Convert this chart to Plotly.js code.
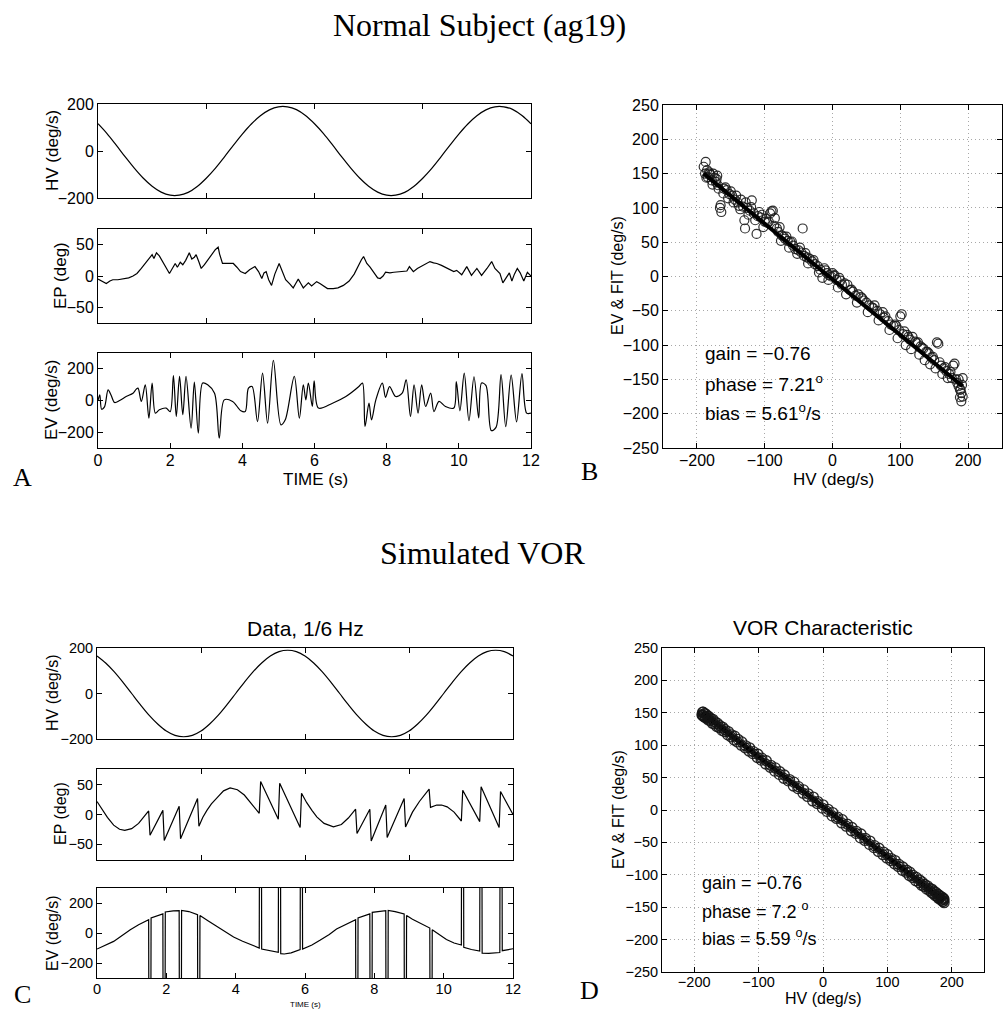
<!DOCTYPE html>
<html><head><meta charset="utf-8">
<script src="https://cdn.plot.ly/plotly-3.0.1.min.js"></script>
<style>html,body{margin:0;padding:0;background:#fff}#chart{width:1008px;height:1012px}</style>
</head><body><div id="chart"></div>
<script>
// ---------------- DATA ----------------
// Panel A (Normal subject) time series
const tHV_A = [0,0.25,0.5,0.75,1,1.25,1.5,1.75,2,2.25,2.5,2.75,3,3.25,3.5,3.75,4,4.25,4.5,4.75,5,5.25,5.5,5.75,6,6.25,6.5,6.75,7,7.25,7.5,7.75,8,8.25,8.5,8.75,9,9.25,9.5,9.75,10,10.25,10.5,10.75,11,11.25,11.5,11.75,12];
const hvA = [116,74,26,-24,-72,-115,-150,-175,-188,-188,-176,-151,-116,-74,-26,24,72,115,150,175,188,188,176,151,116,74,26,-24,-72,-115,-150,-175,-188,-188,-176,-151,-116,-74,-26,24,72,115,150,175,188,188,176,151,116];

const tEP_A = [0,0.12,0.23,0.33,0.41,0.55,0.7,0.85,0.97,1.08,1.2,1.3,1.38,1.45,1.5,1.55,1.62,1.7,1.8,1.9,1.98,2.08,2.14,2.2,2.28,2.35,2.43,2.53,2.6,2.67,2.72,2.8,2.86,2.95,3.05,3.15,3.25,3.33,3.37,3.45,3.6,3.75,3.85,3.95,4.08,4.2,4.35,4.45,4.54,4.6,4.66,4.73,4.81,4.9,5.02,5.1,5.2,5.32,5.41,5.48,5.55,5.62,5.69,5.76,5.83,5.92,6.06,6.15,6.25,6.36,6.52,6.65,6.8,6.96,7.1,7.2,7.3,7.36,7.45,7.54,7.65,7.75,7.82,7.9,7.97,8.09,8.2,8.37,8.5,8.56,8.63,8.74,8.85,9.02,9.1,9.2,9.3,9.39,9.52,9.66,9.78,9.86,9.94,10.08,10.22,10.35,10.5,10.63,10.78,10.91,11.0,11.14,11.22,11.31,11.4,11.47,11.54,11.62,11.7,11.8,11.9,12];
const epA = [-5,-9,-12,-8,-6,-6,-5,-3,0,4,12,20,25,32,34,28,37,32,22,12,4,14,20,14,22,18,25,37,27,30,34,22,12,18,26,34,42,46,35,20,20,20,14,7,4,10,15,7,-4,5,7,-6,-15,3,20,8,-6,-13,-19,-12,-5,-12,-19,-15,-11,-16,-9,-12,-16,-20,-20,-19,-15,-8,3,15,26,31,20,14,4,-3,-4,0,6,5,6,7,7,8,15,7,12,17,20,23,21,20,17,13,10,7,9,2,15,1,12,1,12,23,12,4,-11,-2,5,-8,3,12,5,-8,6,0,-8];

const tEV_A = [0,0.05,0.1,0.18,0.28,0.36,0.46,0.6,0.78,0.97,1.06,1.11,1.2,1.31,1.41,1.5,1.59,1.7,1.89,2.0,2.09,2.17,2.26,2.35,2.44,2.58,2.67,2.78,2.9,3.04,3.23,3.36,3.5,3.73,3.96,4.08,4.17,4.27,4.42,4.56,4.7,4.86,5.07,5.19,5.44,5.58,5.69,5.76,5.83,5.94,5.99,6.11,6.5,6.87,7.23,7.33,7.4,7.51,7.58,7.7,7.88,7.97,8.08,8.25,8.43,8.54,8.66,8.76,8.87,8.97,9.08,9.22,9.31,9.45,9.63,9.86,9.93,10.03,10.15,10.28,10.42,10.55,10.63,10.75,10.9,11.03,11.17,11.3,11.45,11.6,11.75,11.88,12];
const evA = [0,36,-55,-40,67,35,-13,0,25,46,72,78,-6,99,-112,110,-80,-59,-48,-70,158,-101,152,-90,152,-175,116,-206,110,99,46,-238,4,-6,-65,-70,78,88,-133,173,-143,253,-154,-122,152,-112,99,4,110,-38,124,-48,-17,25,88,110,-164,-17,-122,4,110,20,88,25,46,131,-101,99,-80,99,-38,46,-70,-6,-38,-48,120,-65,173,-128,150,-110,110,95,-190,-170,163,-165,160,-135,170,-80,-80];

// Panel B: EV vs HV scatter and fit
const hvB = [-190,-188,-187,-185,-184,-182,-180,-178,-176,-174,-172,-170,-169,-168,-166,-164,-165,-160,-156,-152,-148,-144,-140,-138,-135,-132,-130,-129,-126,-122,-119,-116,-112,-110,-106,-104,-100,-96,-92,-90,-88,-85,-82,-80,-78,-75,-72,-70,-66,-62,-58,-55,-50,-46,-44,-42,-38,-34,-30,-26,-22,-18,-15,-12,-8,-5,-2,0,3,6,10,14,18,22,26,30,34,38,42,46,50,54,58,62,66,70,74,78,82,86,90,94,98,100,102,104,106,110,114,118,122,126,130,134,138,142,146,150,152,154,156,158,160,164,168,172,176,178,180,182,184,186,188,190,191,192,190,188,192,189,186,
-186,-181,-177,-171,-161,-158,-154,-150,-146,-142,-136,-128,-124,-120,-114,-108,-102,-98,-94,-86,-76,-68,-64,-60,-52,-48,-40,-36,-28,-20,-10,-6,2,8,12,20,28,36,44,52,60,68,76,84,92,96,108,112,116,124,128,132,136,140,144,148,162,166,170,174];
const evB = [160,150,167,155,145,152,148,140,150,144,138,147,133,128,100,94,104,128,126,120,118,112,108,103,112,102,82,70,100,96,111,92,62,88,86,90,80,78,92,95,96,85,70,65,72,60,58,55,52,50,45,40,38,35,70,30,28,26,22,18,15,10,-2,12,5,2,0,5,2,-5,-2,-12,-10,-12,-20,-22,-28,-26,-30,-35,-38,-42,-45,-42,-50,-55,-52,-58,-65,-70,-72,-72,-78,-58,-55,-84,-80,-85,-92,-88,-95,-96,-102,-105,-110,-112,-118,-122,-134,-96,-98,-125,-130,-134,-138,-142,-148,-130,-127,-150,-155,-160,-165,-170,-158,-175,-182,-176,-148,-165,-150,
144,150,134,142,121,130,114,124,108,118,98,108,90,101,82,94,72,84,80,74,52,58,42,51,33,42,34,19,24,6,9,-5,1,-16,-6,-26,-19,-38,-32,-52,-46,-64,-60,-78,-70,-90,-100,-88,-106,-97,-114,-104,-122,-110,-128,-117,-142,-132,-148,-139];
const fitHV_B = [-190,192];
const fitEV_B = [150,-160];

// Panel C (simulated) time series
const tHV_C = [0,0.25,0.5,0.75,1,1.25,1.5,1.75,2,2.25,2.5,2.75,3,3.25,3.5,3.75,4,4.25,4.5,4.75,5,5.25,5.5,5.75,6,6.25,6.5,6.75,7,7.25,7.5,7.75,8,8.25,8.5,8.75,9,9.25,9.5,9.75,10,10.25,10.5,10.75,11,11.25,11.5,11.75,12];
const hvC = [165,134,95,49,0,-49,-95,-134,-165,-184,-190,-184,-165,-134,-95,-49,0,49,95,134,165,184,190,184,165,134,95,49,0,-49,-95,-134,-165,-184,-190,-184,-165,-134,-95,-49,0,49,95,134,165,184,190,184,165];

const tEP_C = [0,0.15,0.3,0.48,0.65,0.8,1.0,1.2,1.35,1.49,1.53,1.9,1.94,2.37,2.41,2.9,2.94,3.05,3.17,3.3,3.46,3.65,3.84,4.05,4.25,4.45,4.68,4.72,5.23,5.27,5.86,5.9,6.05,6.2,6.34,6.55,6.82,7.05,7.25,7.46,7.5,7.87,7.91,8.33,8.37,8.86,8.9,9.1,9.3,9.58,9.62,9.8,9.94,10.1,10.3,10.51,10.55,11.04,11.08,11.6,11.64,12];
const epC = [22,8,-5,-18,-25,-27,-24,-15,-5,6,-35,7,-44,14,-41,27,-20,-5,7,18,28,40,45,42,33,19,2,56,-8,53,-22,36,20,7,-4,-15,-21,-17,-6,9,-32,9,-45,16,-39,27,-21,4,22,43,12,16,16,13,4,-11,41,-12,47,-22,39,0];

const tEV_C = [0,0.48,0.96,1.2,1.49,1.5,1.55,1.56,1.9,1.91,1.96,1.97,2.2,2.37,2.38,2.43,2.44,2.65,2.9,2.91,2.96,2.97,3.2,3.46,3.7,3.94,4.2,4.42,4.68,4.69,4.74,4.75,5.0,5.23,5.24,5.29,5.3,5.4,5.6,5.86,5.87,5.92,5.93,6.2,6.43,6.7,6.91,7.2,7.46,7.47,7.52,7.53,7.87,7.88,7.93,7.94,8.15,8.33,8.34,8.39,8.4,8.6,8.86,8.87,8.92,8.93,9.1,9.31,9.6,9.61,9.66,9.67,9.9,10.08,10.3,10.51,10.52,10.57,10.58,10.8,11.04,11.05,11.1,11.11,11.3,11.62,11.63,11.68,11.69,11.85,12];
const evC = [-107,-56,22,55,89,-1000,-1000,100,127,-1000,-1000,140,148,149,-1000,-1000,151,143,122,-1000,-1000,116,82,44,8,-27,-55,-78,-100,1000,1000,-107,-120,-129,1000,1000,-138,-140,-132,-111,1000,1000,-107,-80,-49,-10,27,60,89,-1000,-1000,100,127,-1000,-1000,138,146,149,-1000,-1000,151,143,127,-1000,-1000,116,92,67,33,-1000,-1000,22,-14,-44,-67,-80,1000,1000,-96,-110,-120,1000,1000,-135,-136,-130,1000,1000,-118,-112,-105];

// Panel D: simulated EV vs HV scatter and fit
const hvD = [-188,-187,-185,-182,-178,-172,-165,-157,-148,-138,-127,-115,-102,-89,-75,-61,-46,-31,-16,-1,14,29,44,58,72,86,99,111,123,134,144,153,161,168,174,179,183,186,188,
187,184,180,175,169,162,154,145,135,124,112,100,87,73,59,45,30,15,0,-15,-30,-45,-60,-74,-88,-101,-114,-126,-137,-147,-156,-164,-171,-177,-182,-186,
-186,-183,-180,-175,-169,-161,-153,-143,-133,-121,-109,-96,-82,-68,-54,-39,-24,-9,6,21,36,51,65,79,93,105,117,129,139,149,157,165,171,177,181,185,187,
188,186,182,178,172,166,158,150,140,130,118,106,94,80,66,52,38,23,8,-8,-23,-38,-52,-67,-81,-95,-108,-120,-132,-142,-152,-160,-168,-174,-179,-184,-187];
const evD = [147,146,144,142,139,134,129,123,116,108,100,91,81,71,60,49,37,26,14,3,-9,-20,-32,-43,-53,-64,-74,-83,-93,-101,-109,-116,-122,-127,-132,-136,-139,-141,-143,
-136,-134,-131,-127,-122,-117,-111,-104,-96,-88,-78,-69,-59,-48,-37,-27,-15,-4,8,20,31,43,54,65,76,86,96,105,114,121,128,134,140,144,148,151,
146,144,142,138,133,127,121,113,105,96,87,77,66,55,45,33,21,10,-2,-13,-25,-36,-47,-58,-69,-78,-87,-96,-104,-112,-118,-124,-129,-133,-136,-139,-141,
-138,-136,-133,-130,-125,-121,-115,-108,-101,-93,-84,-75,-65,-55,-44,-33,-22,-11,1,13,25,36,47,59,69,80,90,99,109,116,124,130,136,141,145,149,151];
const fitHV_D = [-188,188];
const fitEV_D = [150,-140];

// Tick values
const timeTicksMajor = [0,2,4,6,8,10,12];
const timeTicksMinor = [0,3,6,9,12];
const hvTicks = [-200,0,200];
const epTicks = [-50,0,50];
const evTicks = [-200,0,200];
const scatXTicks = [-200,-100,0,100,200];
const scatYTicks = [-250,-200,-150,-100,-50,0,50,100,150,200,250];

// ---------------- LAYOUT ----------------
const W = 1008, H = 1012;
const SANS = '"Liberation Sans", Arial, Helvetica, sans-serif';
const SERIF = '"Liberation Serif", "Times New Roman", serif';
function dX(a, b) { return [a / W, b / W]; }
function dY(top, bot) { return [1 - bot / H, 1 - top / H]; }
function ax(extra, fs) {
  return Object.assign({
    showline: true, linecolor: '#000', linewidth: 1, mirror: 'ticks',
    ticks: 'inside', ticklen: 5, tickwidth: 1, tickcolor: '#000',
    zeroline: false, showgrid: false, fixedrange: true, tickmode: 'array',
    tickfont: { family: SANS, size: fs || 16, color: '#000' }
  }, extra);
}
const gridStyle = { showgrid: true, gridcolor: '#a8a8a8', griddash: '1px,3px', gridwidth: 1 };

const lineStyle = { color: '#000', width: 1.2 };
const traces = [
  { x: tHV_A, y: hvA, xaxis: 'x', yaxis: 'y', mode: 'lines', line: Object.assign({ shape: 'spline' }, lineStyle) },
  { x: tEP_A, y: epA, xaxis: 'x2', yaxis: 'y2', mode: 'lines', line: Object.assign({ shape: 'linear' }, lineStyle) },
  { x: tEV_A, y: evA, xaxis: 'x3', yaxis: 'y3', mode: 'lines', line: Object.assign({ shape: 'spline', smoothing: 0.9 }, lineStyle) },
  { x: hvB, y: evB, xaxis: 'x4', yaxis: 'y4', mode: 'markers', marker: { symbol: 'circle-open', size: 9, color: 'rgba(25,25,25,0.9)', line: { width: 1.2 } } },
  { x: fitHV_B, y: fitEV_B, xaxis: 'x4', yaxis: 'y4', mode: 'lines', line: { color: '#000', width: 4 } },
  { x: tHV_C, y: hvC, xaxis: 'x5', yaxis: 'y5', mode: 'lines', line: Object.assign({ shape: 'spline' }, lineStyle) },
  { x: tEP_C, y: epC, xaxis: 'x6', yaxis: 'y6', mode: 'lines', line: Object.assign({ shape: 'linear' }, lineStyle) },
  { x: tEV_C, y: evC, xaxis: 'x7', yaxis: 'y7', mode: 'lines', line: Object.assign({ shape: 'linear' }, lineStyle) },
  { x: fitHV_D, y: fitEV_D, xaxis: 'x8', yaxis: 'y8', mode: 'lines', line: { color: '#000', width: 5 } },
  { x: hvD, y: evD, xaxis: 'x8', yaxis: 'y8', mode: 'markers', marker: { symbol: 'circle-open', size: 10, color: 'rgba(20,20,20,0.9)', line: { width: 1.3 } } }
];

function ann(text, px, py, size, opts) {
  return Object.assign({
    text: text, x: px / W, y: 1 - py / H, xref: 'paper', yref: 'paper',
    xanchor: 'center', yanchor: 'middle', showarrow: false,
    font: { family: SANS, size: size, color: '#000' }
  }, opts || {});
}
function serif(text, px, py, size, anchor) {
  return ann(text, px, py, size, { xanchor: anchor || 'center', font: { family: SERIF, size: size, color: '#000' } });
}
function vtitle(text, px, py, size) { return ann(text, px, py, size, { textangle: -90 }); }
function left(text, px, py, size) { return ann(text, px, py, size, { xanchor: 'left' }); }

const layout = {
  width: W, height: H, margin: { l: 0, r: 0, t: 0, b: 0 },
  paper_bgcolor: '#fff', plot_bgcolor: '#fff', showlegend: false,
  xaxis:  ax({ domain: dX(98, 531), anchor: 'y',  range: [0, 12], tickvals: timeTicksMinor, showticklabels: false }),
  yaxis:  ax({ domain: dY(104, 198), anchor: 'x',  range: [-200, 200], tickvals: hvTicks }),
  xaxis2: ax({ domain: dX(98, 531), anchor: 'y2', range: [0, 12], tickvals: timeTicksMinor, showticklabels: false }),
  yaxis2: ax({ domain: dY(229, 323), anchor: 'x2', range: [-75, 75], tickvals: epTicks }),
  xaxis3: ax({ domain: dX(98, 531), anchor: 'y3', range: [0, 12], tickvals: timeTicksMajor, ticklabelstandoff: -2 }),
  yaxis3: ax({ domain: dY(353, 448), anchor: 'x3', range: [-300, 300], tickvals: evTicks }),
  xaxis4: ax(Object.assign({ domain: dX(663, 1002), anchor: 'y4', range: [-250, 250], tickvals: scatXTicks, ticklabelstandoff: -2 }, gridStyle)),
  yaxis4: ax(Object.assign({ domain: dY(105, 448), anchor: 'x4', range: [-250, 250], tickvals: scatYTicks }, gridStyle)),
  xaxis5: ax({ domain: dX(97, 513), anchor: 'y5', range: [0, 12], tickvals: timeTicksMinor, showticklabels: false }, 14.5),
  yaxis5: ax({ domain: dY(648, 739), anchor: 'x5', range: [-200, 200], tickvals: hvTicks }, 14.5),
  xaxis6: ax({ domain: dX(97, 513), anchor: 'y6', range: [0, 12], tickvals: timeTicksMinor, showticklabels: false }, 14.5),
  yaxis6: ax({ domain: dY(769, 860), anchor: 'x6', range: [-77, 77], tickvals: epTicks }, 14.5),
  xaxis7: ax({ domain: dX(97, 513), anchor: 'y7', range: [0, 12], tickvals: timeTicksMajor, ticklabelstandoff: -2 }, 14.5),
  yaxis7: ax({ domain: dY(888, 978), anchor: 'x7', range: [-300, 300], tickvals: evTicks }, 14.5),
  xaxis8: ax(Object.assign({ domain: dX(662, 984), anchor: 'y8', range: [-250, 250], tickvals: scatXTicks, ticklabelstandoff: -3 }, gridStyle), 14.5),
  yaxis8: ax(Object.assign({ domain: dY(648, 972), anchor: 'x8', range: [-250, 250], tickvals: scatYTicks }, gridStyle), 14.5),
  annotations: [
    serif('Normal Subject (ag19)', 479, 25, 32),
    serif('Simulated VOR', 482, 553, 32),
    serif('A', 22, 478, 26), serif('B', 589, 471, 26),
    serif('C', 22, 994, 26), serif('D', 589, 990, 26),
    vtitle('HV (deg/s)', 52, 151, 17),
    vtitle('EP (deg)', 60, 276, 17),
    vtitle('EV (deg/s)', 52, 400, 17),
    ann('TIME (s)', 315, 479, 17),
    vtitle('EV &amp; FIT (deg/s)', 617, 276, 16),
    ann('HV (deg/s)', 833, 480, 17),
    left('gain = −0.76', 703, 353, 19),
    left('phase = 7.21<sup>o</sup>', 703, 383, 19),
    left('bias = 5.61<sup>o</sup>/s', 703, 412, 19),
    ann('Data, 1/6 Hz', 305, 628, 21),
    vtitle('HV (deg/s)', 52, 693, 16),
    vtitle('EP (deg)', 60, 814, 16),
    vtitle('EV (deg/s)', 52, 933, 16),
    ann('TIME (s)', 305, 1004, 8),
    ann('VOR Characteristic', 823, 627, 21),
    vtitle('EV &amp; FIT (deg/s)', 618, 810, 16),
    ann('HV (deg/s)', 823, 998, 16),
    left('gain = −0.76', 700, 883, 18),
    left('phase = 7.2 <sup>o</sup>', 700, 910, 18),
    left('bias = 5.59 <sup>o</sup>/s', 700, 937, 18)
  ]
};

Plotly.newPlot('chart', traces, layout, { staticPlot: true, displayModeBar: false });
</script>
</body></html>
